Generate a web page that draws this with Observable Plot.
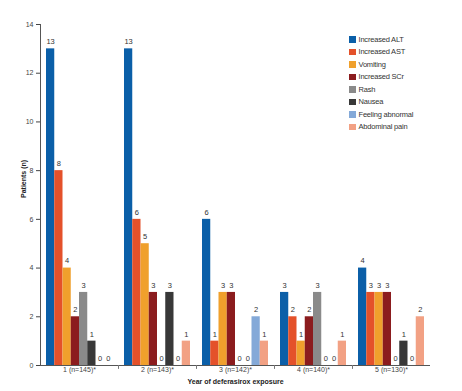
<!DOCTYPE html>
<html><head><meta charset="utf-8">
<script src="https://cdn.jsdelivr.net/npm/d3@7"></script>
<script src="https://cdn.jsdelivr.net/npm/@observablehq/plot@0.6"></script>
<style>
body{margin:0;background:#fff;font-family:"Liberation Sans",Arial,sans-serif}
#wrap{position:relative;width:462px;height:391px}
#legend{position:absolute;left:349px;top:33px;font-size:7.5px;color:#333;letter-spacing:-0.2px}
#legend .item{display:flex;align-items:center;height:12.5px}
#legend .sw{width:6.5px;height:6.5px;margin-right:3px}
</style></head><body><div id="wrap"><div id="legend"></div></div>
<script>
const years = ["1 (n=145)*", "2 (n=143)*", "3 (n=142)*", "4 (n=140)*", "5 (n=130)*"];
const events = ["Increased ALT", "Increased AST", "Vomiting", "Increased SCr", "Rash", "Nausea", "Feeling abnormal", "Abdominal pain"];
const colors = ["#0b5fa8", "#e4512a", "#f0a02c", "#8b1c1e", "#8a8a8a", "#383838", "#84a9d8", "#f2a184"];
const increasedALT = [13, 13, 6, 3, 4];
const increasedAST = [8, 6, 1, 2, 3];
const vomiting = [4, 5, 3, 1, 3];
const increasedSCr = [2, 3, 3, 2, 3];
const rash = [3, 0, 0, 3, 0];
const nausea = [1, 3, 0, 0, 1];
const feelingAbnormal = [0, 0, 2, 0, 0];
const abdominalPain = [0, 1, 1, 1, 2];
const yTicks = [0, 2, 4, 6, 8, 10, 12, 14];

const series = [increasedALT, increasedAST, vomiting, increasedSCr, rash, nausea, feelingAbnormal, abdominalPain];
const bw = 66 / events.length;
const half = 39;

const marks = [];
series.forEach((vals, i) => {
  const rows = years.map((y, j) => ({year: y, value: vals[j]}));
  marks.push(Plot.barY(rows, {x: "year", y: "value", fill: colors[i], insetLeft: i * bw, insetRight: (events.length - 1 - i) * bw}));
  marks.push(Plot.text(rows, {x: "year", y: "value", text: d => String(d.value), dx: (i - 3.5) * bw, dy: -7, fontSize: 7.5, fill: "#333"}));
});
marks.push(Plot.ruleY([0], {stroke: "#555"}));
marks.push(Plot.ruleX([years[0]], {x: d => d, y1: 0, y2: 14, dx: -half, stroke: "#555"}));
marks.push(Plot.ruleX(years.slice(0, 4), {x: d => d, y1: 0, y2: -0.16, dx: half, stroke: "#777"}));
marks.push(Plot.text(["Year of deferasirox exposure"], {frameAnchor: "bottom", dy: 18, fontWeight: "bold", fontSize: 7, fill: "#222"}));
marks.push(Plot.text(["Patients (n)"], {frameAnchor: "left", dx: -17, dy: 3, rotate: -90, fontWeight: "bold", fontSize: 7, fill: "#222"}));

const chart = Plot.plot({
  width: 462, height: 391,
  marginTop: 24, marginBottom: 26, marginLeft: 40, marginRight: 32,
  style: {fontSize: "7px", color: "#444", fontFamily: "Liberation Sans, Arial, sans-serif", background: "#fff"},
  x: {domain: years, paddingInner: 0.154, paddingOuter: 0.077, tickSize: 0, tickPadding: 2, label: null},
  y: {domain: [0, 14], ticks: yTicks, tickSize: 4, tickPadding: 3, label: null},
  marks
});
document.getElementById("wrap").appendChild(chart);

const legend = d3.select("#legend");
events.forEach((e, i) => {
  const it = legend.append("div").attr("class", "item");
  it.append("div").attr("class", "sw").style("background", colors[i]);
  it.append("span").text(e);
});
</script>
</body></html>
